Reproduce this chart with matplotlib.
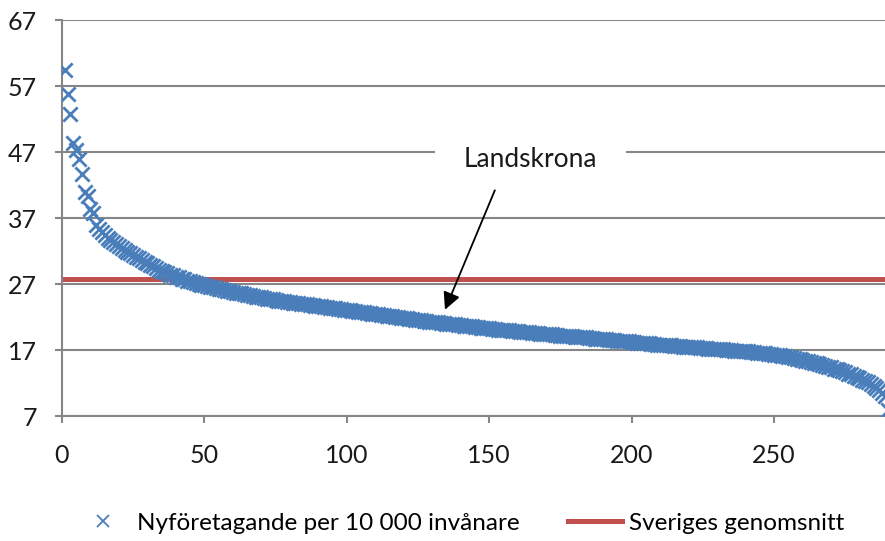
import numpy as np
import matplotlib
matplotlib.use('Agg')
import matplotlib.pyplot as plt
from matplotlib.lines import Line2D

plt.rcParams['font.family'] = ['Lato', 'DejaVu Sans']

# nyföretagande per 10 000 invånare, kommunerna sorterade fallande
nyforetag = [
    59.5, 55.8, 52.8, 48.3, 47.3, 46.0, 43.6, 40.9, 40.3, 38.3,
    37.8, 35.9, 35.3, 34.9, 34.4, 34.0, 33.7, 33.4, 33.1, 32.8,
    32.5, 32.2, 31.9, 31.7, 31.4, 31.1, 30.9, 30.6, 30.4, 30.2,
    29.9, 29.7, 29.4, 29.2, 29.0, 28.8, 28.6, 28.4, 28.3, 28.1,
    28.0, 27.8, 27.7, 27.5, 27.4, 27.3, 27.1, 27.0, 26.9, 26.8,
    26.7, 26.6, 26.5, 26.4, 26.3, 26.2, 26.1, 26.0, 25.9, 25.8,
    25.7, 25.6, 25.6, 25.5, 25.4, 25.3, 25.2, 25.1, 25.1, 25.0,
    24.9, 24.8, 24.8, 24.7, 24.6, 24.5, 24.5, 24.4, 24.3, 24.3,
    24.2, 24.1, 24.1, 24.0, 23.9, 23.9, 23.8, 23.8, 23.7, 23.7,
    23.6, 23.5, 23.5, 23.4, 23.4, 23.3, 23.2, 23.2, 23.1, 23.1,
    23.0, 22.9, 22.9, 22.8, 22.8, 22.7, 22.6, 22.6, 22.5, 22.5,
    22.4, 22.3, 22.3, 22.2, 22.1, 22.1, 22.0, 22.0, 21.9, 21.9,
    21.8, 21.7, 21.7, 21.6, 21.6, 21.5, 21.4, 21.4, 21.3, 21.3,
    21.2, 21.2, 21.1, 21.1, 21.0, 21.0, 20.9, 20.9, 20.8, 20.8,
    20.7, 20.7, 20.6, 20.6, 20.5, 20.5, 20.4, 20.4, 20.3, 20.3,
    20.2, 20.2, 20.1, 20.1, 20.1, 20.0, 20.0, 19.9, 19.9, 19.9,
    19.8, 19.8, 19.7, 19.7, 19.6, 19.6, 19.6, 19.5, 19.5, 19.4,
    19.4, 19.4, 19.3, 19.3, 19.2, 19.2, 19.2, 19.1, 19.1, 19.0,
    19.0, 18.9, 18.9, 18.9, 18.8, 18.8, 18.7, 18.7, 18.7, 18.6,
    18.6, 18.5, 18.5, 18.5, 18.4, 18.4, 18.3, 18.3, 18.3, 18.2,
    18.2, 18.1, 18.1, 18.0, 18.0, 18.0, 17.9, 17.9, 17.8, 17.8,
    17.8, 17.7, 17.7, 17.7, 17.6, 17.6, 17.6, 17.5, 17.5, 17.5,
    17.4, 17.4, 17.4, 17.3, 17.3, 17.3, 17.2, 17.2, 17.2, 17.1,
    17.1, 17.1, 17.0, 17.0, 17.0, 16.9, 16.9, 16.9, 16.8, 16.8,
    16.8, 16.7, 16.7, 16.6, 16.6, 16.5, 16.5, 16.4, 16.4, 16.3,
    16.3, 16.2, 16.1, 16.1, 16.0, 15.9, 15.8, 15.7, 15.6, 15.5,
    15.4, 15.3, 15.2, 15.1, 15.0, 14.9, 14.8, 14.6, 14.5, 14.4,
    14.2, 14.1, 13.9, 13.8, 13.6, 13.4, 13.3, 13.1, 12.9, 12.7,
    12.5, 12.3, 12.1, 11.8, 11.6, 11.3, 11.0, 10.5, 10.0, 7.9,
]
kommun_nr = np.arange(1, len(nyforetag) + 1)
sverige_snitt = 27.7

landskrona_nr = 134.5
landskrona_varde = 23.1
etikett_pos = (152, 41.2)
text_pos = (164.5, 45.8)

blue = '#4a7ebb'
red = '#c0504d'
grey = '#868686'

fig = plt.figure(figsize=(8.85, 5.41), dpi=100)
ax = fig.add_axes([0.070, 0.231, 0.930, 0.732])

ax.set_xlim(0, 289)
ax.set_ylim(7, 67)
ax.set_yticks(np.arange(7, 68, 10))
ax.set_xticks(np.arange(0, 251, 50))
ax.grid(axis='y', color=grey, linewidth=1.5, zorder=0)
ax.set_axisbelow(True)

for s in ['top', 'right']:
    ax.spines[s].set_visible(False)
for s in ['left', 'bottom']:
    ax.spines[s].set_color(grey)
    ax.spines[s].set_linewidth(1.5)
ax.tick_params(axis='both', colors=grey, width=1.5, length=5, labelsize=18,
               labelcolor='#1a1a1a')
ax.tick_params(axis='y', pad=13)
ax.tick_params(axis='x', pad=15)

ax.axhline(sverige_snitt, color=red, linewidth=3.6, zorder=2)
ax.scatter(kommun_nr, nyforetag, marker='x', s=105, color=blue, linewidths=2.0, zorder=3)

ax.text(text_pos[0], text_pos[1], 'Landskrona', fontsize=19, ha='center', va='center',
        color='#1a1a1a', zorder=4,
        bbox=dict(boxstyle='square,pad=1.1', fc='white', ec='none'))
ax.annotate('', xy=(landskrona_nr, landskrona_varde), xytext=etikett_pos,
            arrowprops=dict(arrowstyle='-|>', color='black', lw=1.3,
                            mutation_scale=26, shrinkA=0, shrinkB=0), zorder=5)

handles = [
    Line2D([], [], linestyle='none', marker='x', markersize=9, markeredgewidth=1.3, color=blue),
    Line2D([], [], color=red, linewidth=3.6),
]
fig.legend(handles, ['Nyföretagande per 10 000 invånare', 'Sveriges genomsnitt'],
           loc='center', bbox_to_anchor=(0.52, 0.033), ncol=2, frameon=False,
           fontsize=17.5, handlelength=2.2, handletextpad=0.3, columnspacing=2.0)

fig.savefig('out.png', dpi=100)
